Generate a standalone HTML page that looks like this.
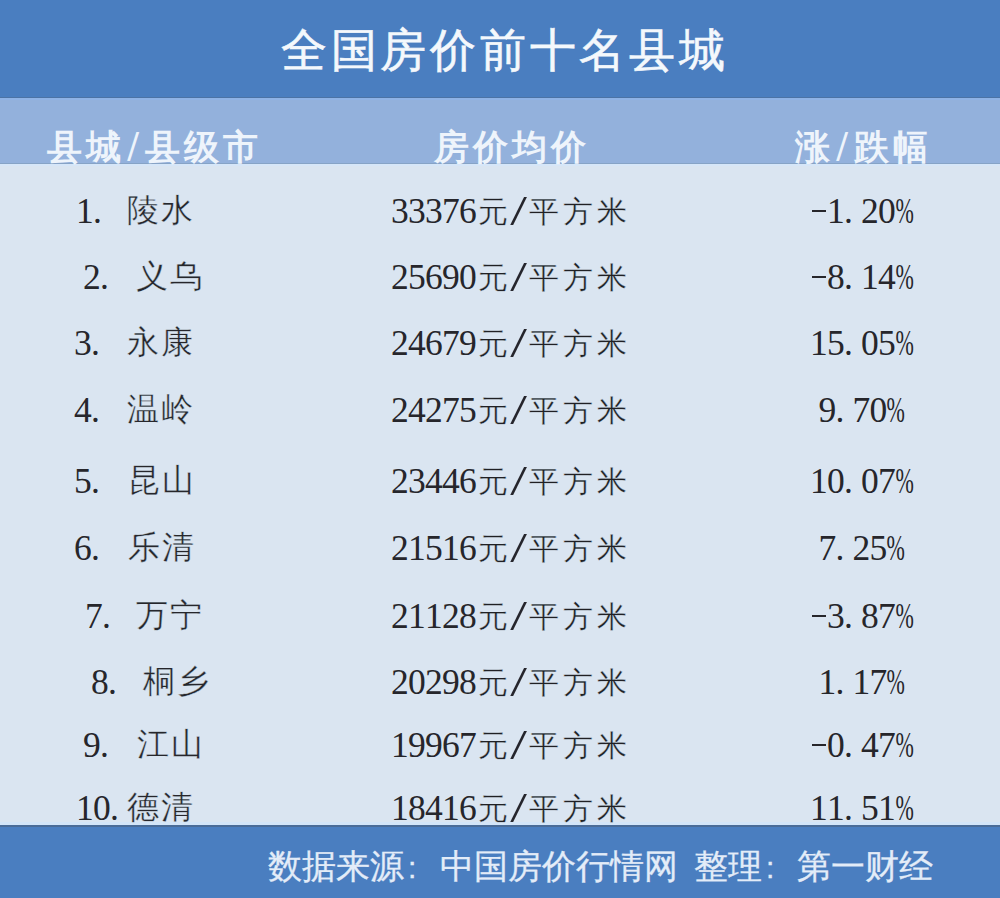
<!DOCTYPE html>
<html><head><meta charset="utf-8">
<style>
html,body{margin:0;padding:0;}
body{width:1000px;height:898px;position:relative;overflow:hidden;background:#dae5f1;font-family:"Liberation Sans",sans-serif;}
.bar{position:absolute;left:0;width:1000px;}
#top{top:0;height:97px;background:#4a7ec0;}
#topline{top:97px;height:1px;background:#4b73a6;}
#sub{top:98px;height:66px;background:#93b1dc;}
#subhi{top:98px;height:2px;background:#8fb3e6;}
#subline{top:163px;height:1px;background:#86a3c6;}
#bodyhi{top:164px;height:2px;background:#d6e6f8;}
#foothi{top:822px;height:3px;background:#d3e5f8;}
#foot{top:825px;height:73px;background:#4a7ec0;}
#footline{top:825px;height:2px;background:#4a6c98;}
.t{position:absolute;white-space:nowrap;line-height:1;}
.t i{display:inline-block;font-style:normal;text-align:center;}
#title{left:279px;top:27px;font-size:46px;color:#f4f8fc;-webkit-text-stroke:0.6px #f4f8fc;}
.h{color:#eef4fb;font-weight:bold;font-size:35px;font-family:"Liberation Serif",serif;top:129.5px;}
.r{color:#26262b;font-size:35.5px;font-family:"Liberation Serif",serif;}
.mn{display:inline-block;width:13.5px;height:1.6px;background:#26262b;vertical-align:11px;margin-left:1px;}
.cj{font-size:32px;-webkit-text-stroke:0.35px #dae5f1;}
.hs{transform:scale(1.15,1.25) translateY(-1px);}
.co{display:block;text-align:left;padding-left:4px;font-size:30px;line-height:34px;}
.cp{font-size:30px;color:#202024;-webkit-text-stroke:0.35px #dae5f1;}
.sl{font-size:40px;width:17px;text-align:center;color:#25252c;transform:scale(1.5,1.08);transform-origin:50% 85%;}
.t b{font-weight:normal;display:inline-block;transform:scaleX(0.62);margin:0 -5.5px;}
.ft{-webkit-text-stroke:0.3px #e3ecf8;color:#e3ecf8;font-size:34px;top:849px;left:268px;}
</style></head><body>
<div class="bar" id="top"></div>
<div class="bar" id="topline"></div>
<div class="bar" id="sub"></div>
<div class="bar" id="subhi"></div>
<div class="bar" id="subline"></div>
<div class="bar" id="bodyhi"></div>
<div class="bar" id="foothi"></div>
<div class="bar" id="foot"></div>
<div class="bar" id="footline"></div>

<div class="t" id="title"><i style="width:49.75px">全</i><i style="width:49.75px">国</i><i style="width:49.75px">房</i><i style="width:49.75px">价</i><i style="width:49.75px">前</i><i style="width:49.75px">十</i><i style="width:49.75px">名</i><i style="width:49.75px">县</i><i style="width:49.75px">城</i></div>
<div class="t h" style="left:45px"><i style="width:39px">县</i><i style="width:39px">城</i><i style="width:20px" class="hs">/</i><i style="width:39px">县</i><i style="width:39px">级</i><i style="width:39px">市</i></div>
<div class="t h" style="left:431.5px"><i style="width:39px">房</i><i style="width:39px">价</i><i style="width:39px">均</i><i style="width:39px">价</i></div>
<div class="t h" style="left:792.5px"><i style="width:39px">涨</i><i style="width:20px" class="hs">/</i><i style="width:39px">跌</i><i style="width:39px">幅</i></div>
<div class="t ft"><i style="width:34px">数</i><i style="width:34px">据</i><i style="width:34px">来</i><i style="width:34px">源</i><i style="width:36px"><span class="co">:</span></i><i style="width:34px">中</i><i style="width:34px">国</i><i style="width:34px">房</i><i style="width:34px">价</i><i style="width:34px">行</i><i style="width:34px">情</i><i style="width:34px">网</i><i style="width:16px"></i><i style="width:34px">整</i><i style="width:34px">理</i><i style="width:35px"><span class="co">:</span></i><i style="width:34px">第</i><i style="width:34px">一</i><i style="width:34px">财</i><i style="width:34px">经</i></div>
<div class="t r" style="left:76px;top:193.6px"><i style="width:17px">1</i><i style="width:17px;text-align:left">.</i></div>
<div class="t r cj" style="left:126px;top:194.0px"><i style="width:34px">陵</i><i style="width:34px">水</i></div>
<div class="t r" style="left:391px;top:193.6px"><i style="width:17px">3</i><i style="width:17px">3</i><i style="width:17px">3</i><i style="width:17px">7</i><i style="width:17px">6</i></div>
<div class="t r cp" style="left:476px;top:197.0px"><i style="width:34px">元</i></div>
<div class="t r sl" style="left:510px;top:191.6px">/</div>
<div class="t r cp" style="left:527px;top:197.0px"><i style="width:34px">平</i><i style="width:34px">方</i><i style="width:34px">米</i></div>
<div class="t r" style="left:810.0px;top:193.6px"><i style="width:17px"><s class="mn"></s></i><i style="width:17px">1</i><i style="width:17px;text-align:left">.</i><i style="width:17px">2</i><i style="width:17px">0</i><i style="width:17px"><b>%</b></i></div>
<div class="t r" style="left:83px;top:259.6px"><i style="width:17px">2</i><i style="width:17px;text-align:left">.</i></div>
<div class="t r cj" style="left:135px;top:260.0px"><i style="width:34px">义</i><i style="width:34px">乌</i></div>
<div class="t r" style="left:391px;top:259.6px"><i style="width:17px">2</i><i style="width:17px">5</i><i style="width:17px">6</i><i style="width:17px">9</i><i style="width:17px">0</i></div>
<div class="t r cp" style="left:476px;top:263.0px"><i style="width:34px">元</i></div>
<div class="t r sl" style="left:510px;top:257.6px">/</div>
<div class="t r cp" style="left:527px;top:263.0px"><i style="width:34px">平</i><i style="width:34px">方</i><i style="width:34px">米</i></div>
<div class="t r" style="left:810.0px;top:259.6px"><i style="width:17px"><s class="mn"></s></i><i style="width:17px">8</i><i style="width:17px;text-align:left">.</i><i style="width:17px">1</i><i style="width:17px">4</i><i style="width:17px"><b>%</b></i></div>
<div class="t r" style="left:74px;top:325.6px"><i style="width:17px">3</i><i style="width:17px;text-align:left">.</i></div>
<div class="t r cj" style="left:126px;top:326.0px"><i style="width:34px">永</i><i style="width:34px">康</i></div>
<div class="t r" style="left:391px;top:325.6px"><i style="width:17px">2</i><i style="width:17px">4</i><i style="width:17px">6</i><i style="width:17px">7</i><i style="width:17px">9</i></div>
<div class="t r cp" style="left:476px;top:329.0px"><i style="width:34px">元</i></div>
<div class="t r sl" style="left:510px;top:323.6px">/</div>
<div class="t r cp" style="left:527px;top:329.0px"><i style="width:34px">平</i><i style="width:34px">方</i><i style="width:34px">米</i></div>
<div class="t r" style="left:810.0px;top:325.6px"><i style="width:17px">1</i><i style="width:17px">5</i><i style="width:17px;text-align:left">.</i><i style="width:17px">0</i><i style="width:17px">5</i><i style="width:17px"><b>%</b></i></div>
<div class="t r" style="left:74px;top:392.6px"><i style="width:17px">4</i><i style="width:17px;text-align:left">.</i></div>
<div class="t r cj" style="left:126px;top:393.0px"><i style="width:34px">温</i><i style="width:34px">岭</i></div>
<div class="t r" style="left:391px;top:392.6px"><i style="width:17px">2</i><i style="width:17px">4</i><i style="width:17px">2</i><i style="width:17px">7</i><i style="width:17px">5</i></div>
<div class="t r cp" style="left:476px;top:396.0px"><i style="width:34px">元</i></div>
<div class="t r sl" style="left:510px;top:390.6px">/</div>
<div class="t r cp" style="left:527px;top:396.0px"><i style="width:34px">平</i><i style="width:34px">方</i><i style="width:34px">米</i></div>
<div class="t r" style="left:818.5px;top:392.6px"><i style="width:17px">9</i><i style="width:17px;text-align:left">.</i><i style="width:17px">7</i><i style="width:17px">0</i><i style="width:17px"><b>%</b></i></div>
<div class="t r" style="left:74px;top:463.6px"><i style="width:17px">5</i><i style="width:17px;text-align:left">.</i></div>
<div class="t r cj" style="left:127px;top:464.0px"><i style="width:34px">昆</i><i style="width:34px">山</i></div>
<div class="t r" style="left:391px;top:463.6px"><i style="width:17px">2</i><i style="width:17px">3</i><i style="width:17px">4</i><i style="width:17px">4</i><i style="width:17px">6</i></div>
<div class="t r cp" style="left:476px;top:467.0px"><i style="width:34px">元</i></div>
<div class="t r sl" style="left:510px;top:461.6px">/</div>
<div class="t r cp" style="left:527px;top:467.0px"><i style="width:34px">平</i><i style="width:34px">方</i><i style="width:34px">米</i></div>
<div class="t r" style="left:810.0px;top:463.6px"><i style="width:17px">1</i><i style="width:17px">0</i><i style="width:17px;text-align:left">.</i><i style="width:17px">0</i><i style="width:17px">7</i><i style="width:17px"><b>%</b></i></div>
<div class="t r" style="left:74px;top:530.6px"><i style="width:17px">6</i><i style="width:17px;text-align:left">.</i></div>
<div class="t r cj" style="left:127px;top:531.0px"><i style="width:34px">乐</i><i style="width:34px">清</i></div>
<div class="t r" style="left:391px;top:530.6px"><i style="width:17px">2</i><i style="width:17px">1</i><i style="width:17px">5</i><i style="width:17px">1</i><i style="width:17px">6</i></div>
<div class="t r cp" style="left:476px;top:534.0px"><i style="width:34px">元</i></div>
<div class="t r sl" style="left:510px;top:528.6px">/</div>
<div class="t r cp" style="left:527px;top:534.0px"><i style="width:34px">平</i><i style="width:34px">方</i><i style="width:34px">米</i></div>
<div class="t r" style="left:818.5px;top:530.6px"><i style="width:17px">7</i><i style="width:17px;text-align:left">.</i><i style="width:17px">2</i><i style="width:17px">5</i><i style="width:17px"><b>%</b></i></div>
<div class="t r" style="left:85px;top:598.6px"><i style="width:17px">7</i><i style="width:17px;text-align:left">.</i></div>
<div class="t r cj" style="left:135px;top:599.0px"><i style="width:34px">万</i><i style="width:34px">宁</i></div>
<div class="t r" style="left:391px;top:598.6px"><i style="width:17px">2</i><i style="width:17px">1</i><i style="width:17px">1</i><i style="width:17px">2</i><i style="width:17px">8</i></div>
<div class="t r cp" style="left:476px;top:602.0px"><i style="width:34px">元</i></div>
<div class="t r sl" style="left:510px;top:596.6px">/</div>
<div class="t r cp" style="left:527px;top:602.0px"><i style="width:34px">平</i><i style="width:34px">方</i><i style="width:34px">米</i></div>
<div class="t r" style="left:810.0px;top:598.6px"><i style="width:17px"><s class="mn"></s></i><i style="width:17px">3</i><i style="width:17px;text-align:left">.</i><i style="width:17px">8</i><i style="width:17px">7</i><i style="width:17px"><b>%</b></i></div>
<div class="t r" style="left:91px;top:664.6px"><i style="width:17px">8</i><i style="width:17px;text-align:left">.</i></div>
<div class="t r cj" style="left:142px;top:665.0px"><i style="width:34px">桐</i><i style="width:34px">乡</i></div>
<div class="t r" style="left:391px;top:664.6px"><i style="width:17px">2</i><i style="width:17px">0</i><i style="width:17px">2</i><i style="width:17px">9</i><i style="width:17px">8</i></div>
<div class="t r cp" style="left:476px;top:668.0px"><i style="width:34px">元</i></div>
<div class="t r sl" style="left:510px;top:662.6px">/</div>
<div class="t r cp" style="left:527px;top:668.0px"><i style="width:34px">平</i><i style="width:34px">方</i><i style="width:34px">米</i></div>
<div class="t r" style="left:818.5px;top:664.6px"><i style="width:17px">1</i><i style="width:17px;text-align:left">.</i><i style="width:17px">1</i><i style="width:17px">7</i><i style="width:17px"><b>%</b></i></div>
<div class="t r" style="left:83px;top:727.6px"><i style="width:17px">9</i><i style="width:17px;text-align:left">.</i></div>
<div class="t r cj" style="left:136px;top:728.0px"><i style="width:34px">江</i><i style="width:34px">山</i></div>
<div class="t r" style="left:391px;top:727.6px"><i style="width:17px">1</i><i style="width:17px">9</i><i style="width:17px">9</i><i style="width:17px">6</i><i style="width:17px">7</i></div>
<div class="t r cp" style="left:476px;top:731.0px"><i style="width:34px">元</i></div>
<div class="t r sl" style="left:510px;top:725.6px">/</div>
<div class="t r cp" style="left:527px;top:731.0px"><i style="width:34px">平</i><i style="width:34px">方</i><i style="width:34px">米</i></div>
<div class="t r" style="left:810.0px;top:727.6px"><i style="width:17px"><s class="mn"></s></i><i style="width:17px">0</i><i style="width:17px;text-align:left">.</i><i style="width:17px">4</i><i style="width:17px">7</i><i style="width:17px"><b>%</b></i></div>
<div class="t r" style="left:76px;top:790.6px"><i style="width:17px">1</i><i style="width:17px">0</i><i style="width:17px;text-align:left">.</i></div>
<div class="t r cj" style="left:126px;top:791.0px"><i style="width:34px">德</i><i style="width:34px">清</i></div>
<div class="t r" style="left:391px;top:790.6px"><i style="width:17px">1</i><i style="width:17px">8</i><i style="width:17px">4</i><i style="width:17px">1</i><i style="width:17px">6</i></div>
<div class="t r cp" style="left:476px;top:794.0px"><i style="width:34px">元</i></div>
<div class="t r sl" style="left:510px;top:788.6px">/</div>
<div class="t r cp" style="left:527px;top:794.0px"><i style="width:34px">平</i><i style="width:34px">方</i><i style="width:34px">米</i></div>
<div class="t r" style="left:810.0px;top:790.6px"><i style="width:17px">1</i><i style="width:17px">1</i><i style="width:17px;text-align:left">.</i><i style="width:17px">5</i><i style="width:17px">1</i><i style="width:17px"><b>%</b></i></div>
</body></html>
